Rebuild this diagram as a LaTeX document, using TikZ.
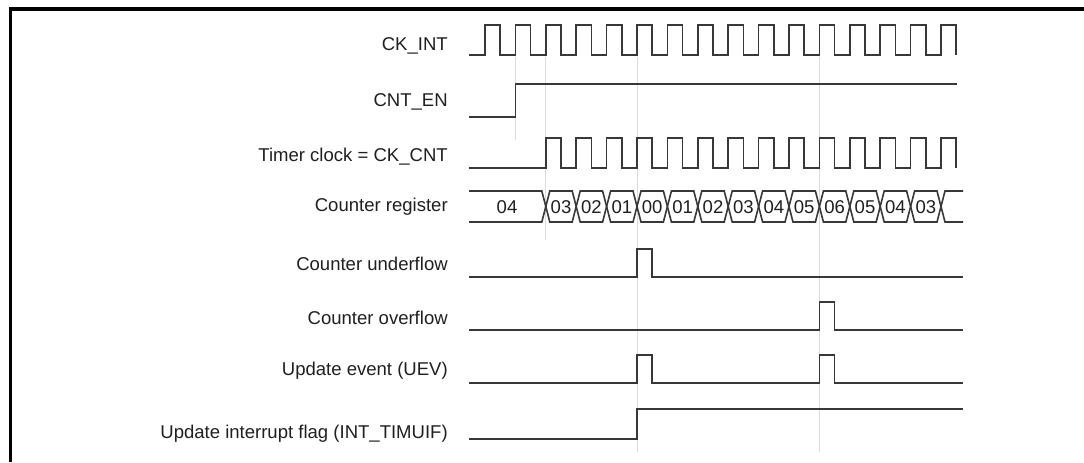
\documentclass[tikz,border=0pt]{standalone}
\usepackage{fontspec}
\setmainfont{Liberation Sans}
\usetikzlibrary{positioning}

\begin{document}
\begin{tikzpicture}[x=0.75pt, y=-0.75pt,
		wave/.style={draw=black!78, line width=1.2pt, line join=miter},
		guide/.style={draw=black!14, line width=0.6pt},
		lbl/.style={anchor=east, inner sep=0pt, font=\fontsize{13.9}{16}\selectfont, text=black!88},
		val/.style={inner sep=0pt, font=\fontsize{13.9}{16}\selectfont, text=black!88}]
				\useasboundingbox (0,0) rectangle (1084,462);
				\def\per{30.4}
				% frame
				\draw[line width=2.3pt] (10.5,462) -- (10.5,9) -- (1084,9);
				% guide lines
				\draw[guide] (515.4,57) -- (515.4,140);
				\draw[guide] (545.8,57) -- (545.8,240);
				\draw[guide] (637,57) -- (637,452);
				\draw[guide] (819.4,57) -- (819.4,452);
				% labels
				\node[lbl] (ckint) at (448,46) {CK\_INT};
				\node[lbl] (cnten) at (448,102) {CNT\_EN};
				\node[lbl] (tclk) at (448,157) {Timer clock = CK\_CNT};
				\node[lbl] (cntreg) at (448,207) {Counter register};
				\node[lbl] (undf) at (448,264) {Counter underflow};
				\node[lbl] (ovf) at (448,318) {Counter overflow};
				\node[lbl] (uev) at (448,371) {Update event (UEV)};
				\node[lbl] (uif) at (448,434) {Update interrupt flag (INT\_TIMUIF)};
				% clocks
				\draw[wave] (469,55) foreach \k in {0,...,15} {
					-- ({485+\k*\per},55) -- ({485+\k*\per},25)
					-- ({485+(\k+0.5)*\per},25) -- ({485+(\k+0.5)*\per},55) };
				\draw[wave] (469,117) -- (515.4,117) -- (515.4,84) -- (957,84);
				\draw[wave] (469,168) foreach \k in {2,...,15} {
					-- ({485+\k*\per},168) -- ({485+\k*\per},138)
					-- ({485+(\k+0.5)*\per},138) -- ({485+(\k+0.5)*\per},168) };
				% counter register
				\draw[wave] (469,191) -- (541.8,191) -- (545.8,206.5) -- (541.8,222) -- (469,222);
				\node[val] (v4) at (507,207) {04};
				\foreach \k/\v in {2/03,3/02,4/01,5/00,6/01,7/02,8/03,9/04,10/05,11/06,12/05,13/04,14/03} {
					\draw[wave] ({485+\k*\per},206.5) -- ({489+\k*\per},191) -- ({481+(\k+1)*\per},191)
						-- ({485+(\k+1)*\per},206.5) -- ({481+(\k+1)*\per},222) -- ({489+\k*\per},222) -- cycle;
					\node[val] at ({485+(\k+0.5)*\per},207) {\v};
				}
				\draw[wave] (963,191) -- ({489+15*\per},191) -- ({485+15*\per},206.5) -- ({489+15*\per},222) -- (963,222);
				% events
				\draw[wave] (469,277) -- (637,277) -- (637,249) -- (652.2,249) -- (652.2,277) -- (963,277);
				\draw[wave] (469,330) -- (819.4,330) -- (819.4,302) -- (834.6,302) -- (834.6,330) -- (963,330);
				\draw[wave] (469,383) -- (637,383) -- (637,355) -- (652.2,355) -- (652.2,383)
					-- (819.4,383) -- (819.4,355) -- (834.6,355) -- (834.6,383) -- (963,383);
				\draw[wave] (469,439) -- (637,439) -- (637,409) -- (963,409);
			\end{tikzpicture}
\end{document}
